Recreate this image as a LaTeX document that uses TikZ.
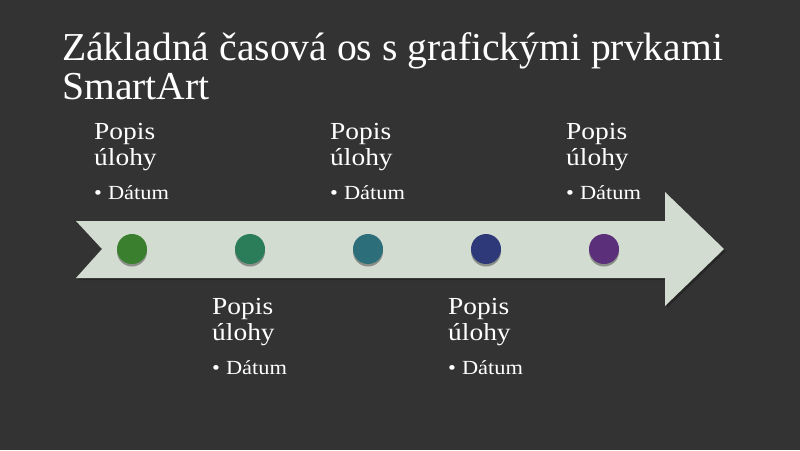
\documentclass[tikz,border=0pt]{standalone}
\usepackage{fontspec}
\setmainfont{Liberation Serif}
\newfontfamily\wideserif[FakeStretch=1.12]{Liberation Serif}
\definecolor{bg}{HTML}{333333}
\definecolor{arrowfill}{HTML}{D3DCD1}
\definecolor{cA}{HTML}{3A7F2E}
\definecolor{cB}{HTML}{2A7D58}
\definecolor{cC}{HTML}{2C6E7A}
\definecolor{cD}{HTML}{2D3978}
\definecolor{cE}{HTML}{5B2F7A}
\tikzset{
  txt/.style={text=white, inner sep=0pt, anchor=base west},
  ttl/.style={txt, font=\fontsize{39.6}{39.6}\selectfont},
  head/.style={txt, font=\wideserif\fontsize{24.5}{24.5}\selectfont},
  item/.style={txt, font=\wideserif\fontsize{20}{20}\selectfont},
  dot/.style={circle, minimum size=30pt, inner sep=0pt, fill=#1},
  shadowdot/.style={circle, minimum size=30pt, inner sep=0pt, fill=black, opacity=0.35}
}
\begin{document}
\begin{tikzpicture}[x=1pt,y=-1pt]
\fill[bg] (0,0) rectangle (800,450);
\useasboundingbox (0,0) rectangle (800,450);
% title
\node[ttl] (t1) at (62,60) {Základná časová os s grafickými prvkami};
\node[ttl] (t2) at (62,99) {SmartArt};
% arrow
\fill[black, opacity=0.25] (78,223) -- (667,223) -- (667,194) -- (726,251) -- (667,308) -- (667,280) -- (78,280) -- (104,251) -- cycle;
\fill[arrowfill] (76,221) -- (665,221) -- (665,192) -- (724,249) -- (665,306) -- (665,278) -- (76,278) -- (102,249) -- cycle;
% dots
\foreach \x/\c [count=\i] in {132/cA,250/cB,368/cC,486/cD,604/cE}{
  \node[shadowdot] (s\i) at (\x,251.5) {};
  \node[dot=\c] (d\i) at (\x,249) {};
}
% top labels
\foreach \x [count=\i] in {94,330,566}{
  \node[head] (pa\i) at (\x,139) {Popis};
  \node[head] (ua\i) at (\x,165) {úlohy};
  \node[item] (da\i) at (\x,199) {\textbullet\hspace{6pt}Dátum};
}
% bottom labels
\foreach \x [count=\i] in {212,448}{
  \node[head] (pb\i) at (\x,314) {Popis};
  \node[head] (ub\i) at (\x,340) {úlohy};
  \node[item] (db\i) at (\x,374) {\textbullet\hspace{6pt}Dátum};
}
\end{tikzpicture}
\end{document}
